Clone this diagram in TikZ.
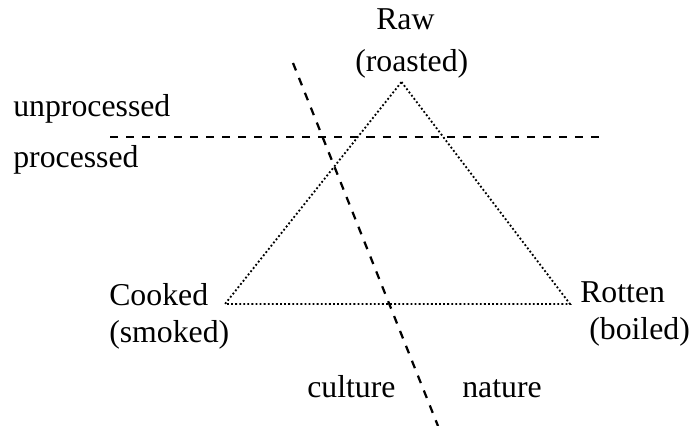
\documentclass[tikz,border=0pt]{standalone}
\usepackage{fontspec}
\setmainfont{Liberation Serif}
\usepackage{tikz}

\tikzset{
    lbl/.style={anchor=base west, inner sep=0pt, font=\fontsize{22.6}{26}\selectfont},
    divider/.style={line width=1.6pt, dash pattern=on 5.7pt off 5.7pt},
    tri/.style={line width=1.3pt, dash pattern=on 1.3pt off 1.6pt}
}

\begin{document}
\begin{tikzpicture}[x=0.025cm, y=-0.025cm]
    \useasboundingbox (0,0) rectangle (692,426);
    % corners of the triangle
    \coordinate (raw) at (401.5,82);
    \coordinate (cooked) at (225,304);
    \coordinate (rotten) at (570,304);
    \draw[tri] (raw) -- (rotten) -- (cooked) -- cycle;
    % the two dividing lines
    \coordinate (hl) at (110,137);
    \coordinate (hr) at (606,137);
    \coordinate (st) at (293,63);
    \coordinate (sb) at (438,426);
    \draw[divider] (hl) -- (hr);
    \draw[divider] (st) -- (sb);
    % labels
    \node[lbl] (rawtxt) at (376,30) {Raw};
    \node[lbl] (roasted) at (355,72) {(roasted)};
    \node[lbl] (unproc) at (13,117) {unprocessed};
    \node[lbl] (proc) at (13,168) {processed};
    \node[lbl] (cookedtxt) at (109,306) {Cooked};
    \node[lbl] (smoked) at (109,343) {(smoked)};
    \node[lbl] (rottentxt) at (580,303) {Rotten};
    \node[lbl] (boiled) at (589,340) {(boiled)};
    \node[lbl] (culture) at (307,397) {culture};
    \node[lbl] (nature) at (462,397) {nature};
\end{tikzpicture}
\end{document}
